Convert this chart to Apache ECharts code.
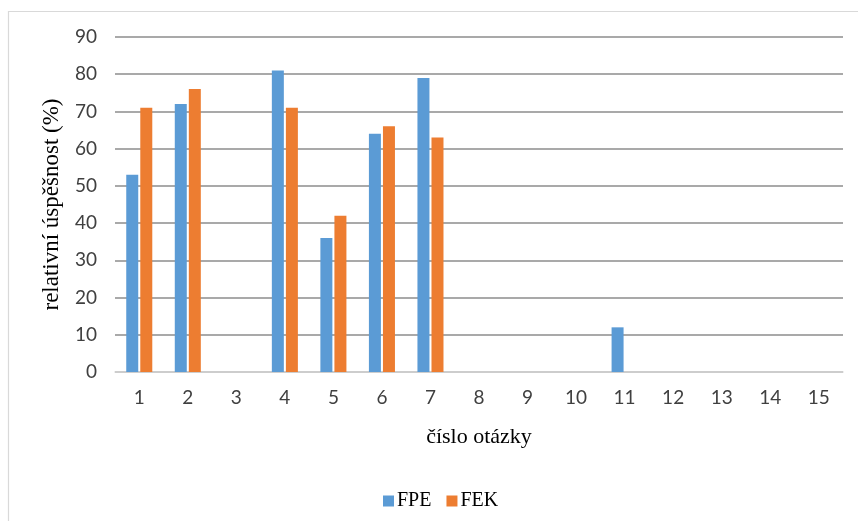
<!DOCTYPE html>
<html>
<head>
<meta charset="utf-8">
<script src="https://cdn.jsdelivr.net/npm/echarts@6/dist/echarts.min.js"></script>
<style>
  html, body { margin: 0; padding: 0; background: #ffffff; }
  #chart { width: 858px; height: 521px; }
</style>
</head>
<body>
<div id="chart"></div>
<script>
// Question numbers and relative success (%) per faculty
const questions = ['1', '2', '3', '4', '5', '6', '7', '8', '9', '10', '11', '12', '13', '14', '15'];
const fpe = [53, 72, 0, 81, 36, 64, 79, 0, 0, 0, 12, 0, 0, 0, 0];
const fek = [71, 76, 0, 71, 42, 66, 63, 0, 0, 0, 0, 0, 0, 0, 0];
const yTicks = { min: 0, max: 90, step: 10 };

const chart = echarts.init(document.getElementById('chart'), null, { renderer: 'canvas' });

const serif = '"Liberation Serif", "Times New Roman", serif';
const sans = 'Lato, "Open Sans", "Noto Sans", sans-serif';

chart.setOption({
  animation: false,
  backgroundColor: '#ffffff',
  graphic: [{
    type: 'rect',
    shape: { x: 8.5, y: 11.5, width: 900, height: 600 },
    style: { fill: 'none', stroke: '#d9d9d9', lineWidth: 1.2 },
    silent: true
  }],
  grid: { left: 115, right: 15, top: 37, bottom: 149, containLabel: false },
  legend: {
    data: ['FPE', 'FEK'],
    left: 378,
    top: 486,
    itemWidth: 11,
    itemHeight: 11,
    itemGap: 15,
    icon: 'rect',
    textStyle: { fontFamily: serif, fontSize: 20, color: '#000000', padding: [0, 0, 0, -2] }
  },
  xAxis: {
    type: 'category',
    data: questions,
    name: 'číslo otázky',
    nameLocation: 'middle',
    nameGap: 54,
    nameTextStyle: { fontFamily: serif, fontSize: 22, color: '#000000' },
    axisLine: { lineStyle: { color: '#d9d9d9', width: 1.5 } },
    axisTick: { show: false },
    axisLabel: { fontFamily: sans, fontSize: 19, color: '#404040', margin: 16 }
  },
  yAxis: {
    type: 'value',
    min: yTicks.min,
    max: yTicks.max,
    interval: yTicks.step,
    name: 'relativní úspěšnost (%)',
    nameLocation: 'middle',
    nameGap: 52,
    nameTextStyle: { fontFamily: serif, fontSize: 23, color: '#000000' },
    axisLine: { show: false },
    axisTick: { show: false },
    axisLabel: { fontFamily: sans, fontSize: 19, color: '#404040', margin: 18 },
    splitLine: { lineStyle: { color: '#8c8c8c', width: 1.5 } }
  },
  series: [
    {
      name: 'FPE',
      type: 'bar',
      data: fpe,
      barWidth: 12,
      barGap: '17%',
      itemStyle: { color: '#5b9bd5' }
    },
    {
      name: 'FEK',
      type: 'bar',
      data: fek,
      barWidth: 12,
      barGap: '17%',
      itemStyle: { color: '#ed7d31' }
    }
  ]
});
</script>
</body>
</html>
